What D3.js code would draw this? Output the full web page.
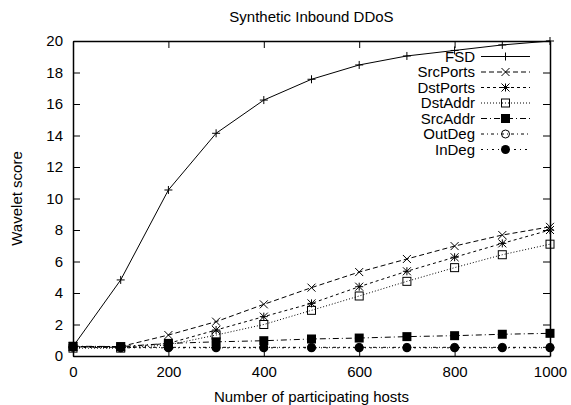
<!DOCTYPE html>
<html>
<head>
<meta charset="utf-8">
<script src="https://cdn.jsdelivr.net/npm/d3@7"></script>
<style>
  body { margin: 0; background: #fff; }
  svg text { font-family: "Liberation Sans", Arial, sans-serif; fill: #000; }
</style>
</head>
<body>
<svg id="chart" width="571" height="405"></svg>
<script>
// values, one per x position
const hosts = [0, 100, 200, 300, 400, 500, 600, 700, 800, 900, 1000];
const fsd      = [0.6, 4.83, 10.54, 14.14, 16.25, 17.57, 18.48, 19.05, 19.4, 19.75, 20.0];
const srcPorts = [0.6, 0.6, 1.33, 2.18, 3.28, 4.34, 5.33, 6.16, 6.98, 7.68, 8.2];
const dstPorts = [0.58, 0.55, 0.8, 1.65, 2.5, 3.34, 4.4, 5.38, 6.27, 7.15, 8.0];
const dstAddr  = [0.5, 0.5, 0.7, 1.33, 2.0, 2.9, 3.81, 4.74, 5.61, 6.43, 7.1];
const srcAddr  = [0.62, 0.6, 0.8, 0.9, 0.97, 1.08, 1.14, 1.23, 1.29, 1.38, 1.44];
const outDeg   = [0.58, 0.55, 0.55, 0.55, 0.55, 0.55, 0.55, 0.55, 0.55, 0.55, 0.55];
const inDeg    = [0.55, 0.52, 0.52, 0.52, 0.52, 0.52, 0.52, 0.52, 0.52, 0.52, 0.52];

const seriesNames = ["FSD", "SrcPorts", "DstPorts", "DstAddr", "SrcAddr", "OutDeg", "InDeg"];
const seriesValues = [fsd, srcPorts, dstPorts, dstAddr, srcAddr, outDeg, inDeg];
const xTicks = [0, 200, 400, 600, 800, 1000];
const yTicks = [0, 2, 4, 6, 8, 10, 12, 14, 16, 18, 20];

// look of each series (gnuplot style line types)
const dashes = [null, "5,3", "3,3", "1,2", "6,3,1,3", "3,3,1,3", "2,4,1,4"];
const markers = ["plus", "cross", "star", "square", "squareFill", "circle", "circleFill"];

const fontSize = 15;
const svg = d3.select("#chart");
const plotLeft = 73, plotRight = 550, plotTop = 41, plotBottom = 356;

const x = d3.scaleLinear().domain([0, 1000]).range([plotLeft, plotRight]);
const y = d3.scaleLinear().domain([0, 20]).range([plotBottom, plotTop]);

// axes: ticks point inwards, labels only on bottom and left
svg.append("g")
  .attr("transform", `translate(0,${plotBottom})`)
  .call(d3.axisBottom(x).tickValues(xTicks).tickFormat(d3.format("d"))
    .tickSizeInner(-7).tickSizeOuter(0).tickPadding(10))
  .call(g => g.selectAll("text").attr("font-size", fontSize));
svg.append("g")
  .attr("transform", `translate(0,${plotTop})`)
  .call(d3.axisTop(x).tickValues(xTicks).tickSizeInner(-7).tickSizeOuter(0).tickFormat(""));
svg.append("g")
  .attr("transform", `translate(${plotLeft},0)`)
  .call(d3.axisLeft(y).tickValues(yTicks).tickSizeInner(-7).tickSizeOuter(0).tickPadding(10))
  .call(g => g.selectAll("text").attr("font-size", fontSize));
svg.append("g")
  .attr("transform", `translate(${plotRight},0)`)
  .call(d3.axisRight(y).tickValues(yTicks).tickSizeInner(-7).tickSizeOuter(0).tickFormat(""));

svg.selectAll(".domain").attr("stroke", "#000").attr("stroke-width", 1.5);
svg.selectAll(".tick line").attr("stroke", "#000").attr("stroke-width", 1);

// marker shapes drawn around (0,0)
function drawMarker(g, type) {
  const s = 4;
  if (type === "plus" || type === "star") {
    g.append("path").attr("d", `M${-s},0H${s}M0,${-s}V${s}`).attr("stroke", "#000").attr("stroke-width", 1);
  }
  if (type === "cross" || type === "star") {
    g.append("path").attr("d", `M${-s},${-s}L${s},${s}M${-s},${s}L${s},${-s}`).attr("stroke", "#000").attr("stroke-width", 1);
  }
  if (type === "square") {
    g.append("rect").attr("x", -s).attr("y", -s).attr("width", 2 * s).attr("height", 2 * s)
      .attr("fill", "none").attr("stroke", "#000").attr("stroke-width", 1);
  }
  if (type === "squareFill") {
    g.append("rect").attr("x", -s - 0.5).attr("y", -s - 0.5).attr("width", 2 * s + 1).attr("height", 2 * s + 1).attr("fill", "#000");
  }
  if (type === "circle") {
    g.append("circle").attr("r", s).attr("fill", "none").attr("stroke", "#000").attr("stroke-width", 1);
  }
  if (type === "circleFill") {
    g.append("circle").attr("r", s + 0.5).attr("fill", "#000");
  }
}

const line = d3.line().x(d => x(d[0])).y(d => y(d[1]));

seriesValues.forEach((vals, i) => {
  const pts = hosts.map((h, j) => [h, vals[j]]);
  const g = svg.append("g");
  g.append("path")
    .attr("d", line(pts))
    .attr("fill", "none")
    .attr("stroke", "#000")
    .attr("stroke-width", 1)
    .attr("stroke-dasharray", dashes[i]);
  pts.forEach(p => {
    const m = g.append("g").attr("transform", `translate(${x(p[0])},${y(p[1])})`);
    drawMarker(m, markers[i]);
  });
});

// legend, top right
const legend = svg.append("g");
seriesNames.forEach((name, i) => {
  const ly = 56.5 + i * 15.5;
  legend.append("text")
    .attr("x", 475).attr("y", ly).attr("dy", "0.35em")
    .attr("text-anchor", "end").attr("font-size", fontSize)
    .text(name);
  legend.append("line")
    .attr("x1", 481).attr("x2", 530).attr("y1", ly).attr("y2", ly)
    .attr("stroke", "#000").attr("stroke-width", 1)
    .attr("stroke-dasharray", dashes[i]);
  drawMarker(legend.append("g").attr("transform", `translate(505.5,${ly})`), markers[i]);
});

// titles
svg.append("text")
  .attr("x", (plotLeft + plotRight) / 2).attr("y", 22)
  .attr("text-anchor", "middle").attr("font-size", fontSize)
  .text("Synthetic Inbound DDoS");
svg.append("text")
  .attr("x", (plotLeft + plotRight) / 2).attr("y", 402)
  .attr("text-anchor", "middle").attr("font-size", fontSize)
  .text("Number of participating hosts");
svg.append("text")
  .attr("transform", `translate(22,${(plotTop + plotBottom) / 2}) rotate(-90)`)
  .attr("text-anchor", "middle").attr("font-size", fontSize)
  .text("Wavelet score");
</script>
</body>
</html>
